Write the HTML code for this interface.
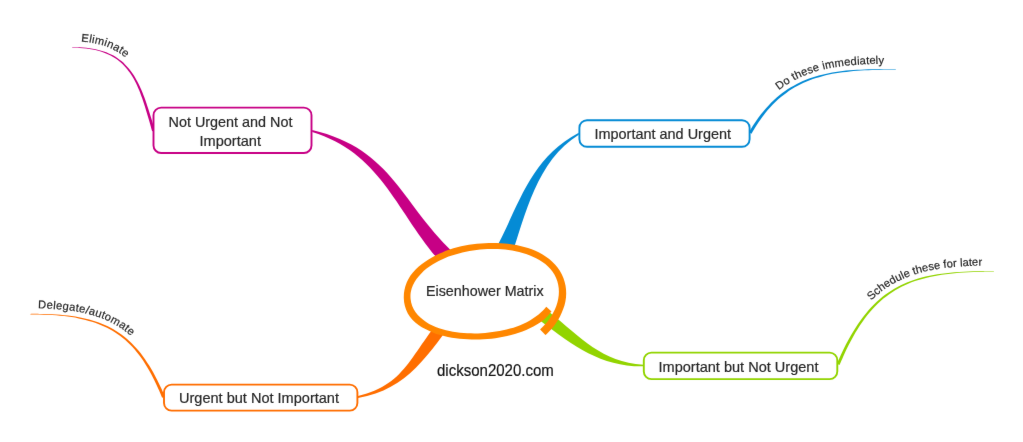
<!DOCTYPE html>
<html lang="en">
<head>
<meta charset="utf-8">
<title>Eisenhower Matrix</title>
<style>
html,body{margin:0;padding:0;background:#fff;}
body{width:1023px;height:442px;overflow:hidden;}
svg{display:block;}
text{font-family:"Liberation Sans",Arial,Helvetica,sans-serif;fill:#282828;stroke:#282828;stroke-width:0.2px;}
</style>
</head>
<body>
<svg width="1023" height="442" viewBox="0 0 1023 442">
<defs><filter id="soft" x="0" y="0" width="1023" height="442" filterUnits="userSpaceOnUse" color-interpolation-filters="sRGB"><feConvolveMatrix order="3" kernelMatrix="0.0028 0.0470 0.0028 0.0470 0.8008 0.0470 0.0028 0.0470 0.0028" edgeMode="duplicate" preserveAlpha="false"/></filter></defs>
<g filter="url(#soft)">
<rect width="1023" height="442" fill="#ffffff"/>

<path d="M312.2 130C410 153.1 400.5 227.8 496.6 285.1L470.3 289.6C400.7 237.9 395.3 157.2 312.2 132Z" fill="#C70085"/>
<path d="M578.8 132.7C520.6 164 518 219.8 479.9 275.8L505.5 272.4C523.3 228 531.4 164.2 578.8 134.8Z" fill="#058BD5"/>
<path d="M643.4 364.8C601.2 361.6 582.6 339 548.3 311.3L540.3 320.7C574.5 346.8 601.8 366.9 643.4 366.3Z" fill="#92D400"/>
<path d="M358 395.9C409.4 384.5 410.4 349.6 451.3 307.6L461 310.7C427.2 355.2 408.9 389 358 398Z" fill="#FF6E00"/>
<path d="M154.9 130.4C154.6 129.3 153.6 126.1 153 124C152.3 121.8 151.7 119.8 151.1 117.7C150.4 115.7 149.8 113.7 149.2 111.7C148.6 109.7 147.9 107.8 147.3 105.9C146.7 104 146 102.1 145.4 100.3C144.7 98.4 144.1 96.6 143.4 94.9C142.7 93.1 142 91.4 141.3 89.7C140.5 88.1 139.8 86.4 139 84.8C138.3 83.2 137.5 81.7 136.6 80.2C135.8 78.7 135 77.2 134.1 75.8C133.2 74.4 132.3 73 131.3 71.7C130.3 70.4 129.3 69.1 128.3 67.9C127.2 66.7 126.2 65.5 125 64.4C123.9 63.2 122.7 62.2 121.4 61.1C120.2 60.1 118.9 59.1 117.6 58.2C116.2 57.3 114.8 56.4 113.4 55.6C111.9 54.8 110.4 54.1 108.8 53.4C107.2 52.7 105.5 52 103.8 51.5C102.1 50.9 100.3 50.4 98.4 49.9C96.6 49.4 94.6 49 92.6 48.7C90.6 48.3 88.5 48 86.3 47.8C84.1 47.6 81.9 47.4 79.5 47.3C77.2 47.2 73.4 47.2 72.2 47.1L72.2 47.6C73.4 47.7 77.1 47.7 79.5 47.9C81.8 48 84.1 48.2 86.2 48.5C88.4 48.8 90.5 49.1 92.5 49.5C94.4 49.8 96.4 50.3 98.2 50.8C100 51.3 101.8 51.8 103.5 52.4C105.2 53 106.8 53.7 108.3 54.4C109.9 55.1 111.3 55.9 112.7 56.7C114.2 57.5 115.5 58.4 116.8 59.3C118.1 60.2 119.3 61.2 120.5 62.2C121.7 63.3 122.8 64.3 123.9 65.4C125 66.6 126 67.7 127 68.9C128 70.2 129 71.4 129.9 72.7C130.8 74 131.7 75.4 132.5 76.8C133.3 78.2 134.1 79.6 134.9 81.1C135.7 82.6 136.4 84.1 137.2 85.7C137.9 87.3 138.6 88.9 139.3 90.6C139.9 92.2 140.6 93.9 141.2 95.7C141.9 97.4 142.5 99.2 143.1 101C143.7 102.9 144.3 104.7 144.9 106.6C145.5 108.5 146.1 110.5 146.7 112.4C147.3 114.4 147.9 116.4 148.5 118.5C149.1 120.5 149.7 122.6 150.3 124.7C150.9 126.9 151.8 130.1 152.1 131.2Z" fill="#C70085"/>
<path d="M751.6 133.7C752.3 132.5 754.5 128.6 756.1 126.1C757.6 123.7 759.1 121.4 760.7 119.2C762.3 117 763.9 114.9 765.5 112.8C767.1 110.8 768.8 108.9 770.5 107.1C772.1 105.2 773.9 103.5 775.6 101.8C777.3 100.2 779.1 98.6 780.9 97.1C782.7 95.6 784.5 94.2 786.3 92.9C788.2 91.5 790 90.3 791.9 89.1C793.8 87.9 795.7 86.8 797.7 85.8C799.6 84.7 801.6 83.7 803.6 82.8C805.6 81.9 807.7 81.1 809.7 80.3C811.8 79.5 813.9 78.7 816 78.1C818.1 77.4 820.3 76.8 822.4 76.2C824.6 75.6 826.8 75.1 829 74.6C831.3 74.1 833.5 73.7 835.8 73.3C838.1 72.9 840.4 72.6 842.7 72.2C845.1 71.9 847.5 71.7 849.8 71.4C852.2 71.2 854.7 71 857.1 70.8C859.5 70.6 862 70.4 864.5 70.3C867 70.2 869.6 70.1 872.1 70C874.7 69.9 877.2 69.8 879.8 69.8C882.5 69.7 885.1 69.7 887.7 69.6C890.4 69.6 894.5 69.6 895.8 69.5L895.8 69C894.5 69 890.4 69 887.7 69C885.1 69 882.4 69 879.8 69C877.2 69.1 874.6 69.1 872.1 69.2C869.5 69.2 867 69.3 864.5 69.4C862 69.5 859.5 69.6 857 69.8C854.6 69.9 852.1 70.1 849.7 70.3C847.3 70.5 844.9 70.7 842.6 71C840.2 71.3 837.9 71.6 835.6 72C833.3 72.3 831 72.7 828.8 73.2C826.5 73.6 824.3 74.1 822.1 74.7C819.9 75.2 817.7 75.8 815.5 76.5C813.4 77.1 811.2 77.8 809.1 78.6C807 79.4 804.9 80.2 802.9 81.1C800.8 82 798.8 83 796.8 84C794.8 85.1 792.8 86.2 790.8 87.3C788.9 88.5 787 89.8 785.1 91.1C783.2 92.4 781.3 93.8 779.4 95.3C777.6 96.8 775.8 98.4 774 100.1C772.2 101.8 770.4 103.5 768.6 105.4C766.9 107.2 765.2 109.2 763.5 111.2C761.8 113.2 760.1 115.4 758.5 117.6C756.9 119.8 755.3 122.2 753.7 124.6C752.1 127.1 749.8 131 749 132.3Z" fill="#058BD5"/>
<path d="M839.5 365C840.3 363.3 842.5 358.1 843.9 354.9C845.4 351.7 846.9 348.6 848.4 345.6C849.9 342.6 851.4 339.7 853 336.9C854.5 334.2 856.1 331.5 857.7 329C859.2 326.5 860.8 324.1 862.5 321.7C864.1 319.4 865.8 317.2 867.4 315.1C869.1 313 870.8 311 872.6 309C874.3 307.1 876.1 305.3 877.9 303.6C879.7 301.8 881.6 300.2 883.4 298.6C885.3 297.1 887.2 295.6 889.2 294.2C891.2 292.8 893.2 291.5 895.2 290.3C897.3 289 899.4 287.9 901.5 286.8C903.7 285.7 905.9 284.7 908.1 283.8C910.3 282.8 912.6 282 915 281.1C917.3 280.3 919.7 279.6 922.2 278.9C924.7 278.2 927.2 277.6 929.8 277C932.3 276.4 935 275.9 937.7 275.4C940.4 275 943.2 274.6 946 274.2C948.8 273.8 951.7 273.5 954.7 273.2C957.7 272.9 960.7 272.7 963.8 272.5C967 272.3 970.1 272.1 973.4 272C976.7 271.8 980 271.8 983.4 271.7C986.8 271.6 992.2 271.6 993.9 271.6L993.9 271.1C992.2 271.1 986.8 271 983.4 271.1C980 271.1 976.6 271.2 973.4 271.3C970.1 271.4 966.9 271.5 963.8 271.7C960.7 271.8 957.6 272 954.6 272.3C951.6 272.5 948.7 272.8 945.9 273.2C943 273.5 940.2 273.9 937.5 274.3C934.8 274.8 932.1 275.3 929.5 275.8C926.9 276.3 924.3 276.9 921.8 277.6C919.4 278.3 916.9 279 914.5 279.8C912.1 280.6 909.8 281.4 907.5 282.3C905.2 283.3 903 284.3 900.8 285.3C898.6 286.4 896.4 287.5 894.3 288.8C892.2 290 890.2 291.3 888.1 292.7C886.1 294.1 884.1 295.5 882.2 297.1C880.3 298.7 878.4 300.3 876.5 302.1C874.6 303.8 872.8 305.6 871 307.6C869.2 309.5 867.4 311.5 865.7 313.7C863.9 315.8 862.2 318 860.5 320.4C858.8 322.7 857.2 325.1 855.6 327.7C853.9 330.2 852.3 332.9 850.7 335.7C849.1 338.4 847.6 341.3 846 344.3C844.4 347.3 842.9 350.5 841.4 353.7C839.9 357 837.6 362.1 836.9 363.8Z" fill="#92D400"/>
<path d="M164.8 396.8C164.2 395.3 162.4 390.9 161.1 388.1C159.8 385.3 158.5 382.6 157.2 380C155.9 377.5 154.6 375 153.3 372.6C152 370.1 150.6 367.8 149.2 365.6C147.8 363.4 146.4 361.3 145 359.2C143.6 357.2 142.1 355.2 140.7 353.3C139.2 351.4 137.7 349.6 136.1 347.9C134.6 346.2 133 344.6 131.4 343C129.8 341.4 128.2 340 126.5 338.5C124.9 337.1 123.2 335.8 121.4 334.5C119.7 333.3 117.9 332.1 116.1 330.9C114.3 329.8 112.5 328.8 110.6 327.8C108.7 326.8 106.8 325.8 104.8 325C102.8 324.1 100.8 323.3 98.7 322.5C96.7 321.8 94.6 321.1 92.4 320.5C90.3 319.8 88.1 319.2 85.8 318.7C83.6 318.2 81.3 317.7 78.9 317.3C76.6 316.8 74.2 316.4 71.7 316.1C69.2 315.7 66.7 315.4 64.2 315.2C61.6 314.9 59 314.7 56.3 314.5C53.6 314.4 50.8 314.2 48 314.1C45.2 314 42.4 313.9 39.4 313.9C36.5 313.8 31.9 313.9 30.4 313.9L30.4 314.4C31.9 314.4 36.5 314.4 39.4 314.5C42.3 314.6 45.2 314.7 48 314.8C50.8 315 53.5 315.1 56.2 315.3C58.9 315.6 61.5 315.8 64.1 316.1C66.6 316.4 69.1 316.7 71.6 317.1C74 317.5 76.4 317.9 78.7 318.4C81 318.8 83.3 319.3 85.5 319.9C87.7 320.5 89.9 321.1 92 321.7C94.1 322.4 96.2 323.1 98.2 323.9C100.2 324.7 102.2 325.5 104.1 326.4C106.1 327.3 108 328.2 109.8 329.2C111.6 330.2 113.4 331.3 115.2 332.4C116.9 333.6 118.6 334.8 120.3 336C122 337.3 123.6 338.6 125.3 340C126.9 341.4 128.4 342.9 130 344.5C131.5 346 133 347.6 134.5 349.3C136 351.1 137.4 352.8 138.9 354.7C140.3 356.6 141.7 358.5 143.1 360.5C144.4 362.6 145.8 364.7 147.1 366.9C148.4 369.1 149.7 371.4 151 373.8C152.3 376.2 153.6 378.7 154.8 381.2C156.1 383.8 157.3 386.5 158.5 389.2C159.8 392 161.6 396.4 162.2 397.8Z" fill="#FF6E00"/>
<defs><path id="pm" d="M72.2 41.4C73.2 41.4 76.4 41.4 78.4 41.5C80.4 41.6 82.4 41.7 84.3 41.9C86.2 42.1 88.2 42.3 89.8 42.5C91.5 42.8 92.8 43 94.4 43.3C96 43.6 97.8 44 99.4 44.4C101 44.8 102.6 45.3 104.1 45.8C105.7 46.3 107.2 46.8 108.6 47.4C110.1 48 111.5 48.6 112.8 49.3C114.2 49.9 115.5 50.7 116.8 51.4C118.1 52.2 119.4 53 120.5 53.8C121.6 54.5 122.4 55.1 123.5 56C124.5 56.8 125.7 57.8 126.7 58.8C127.8 59.7 128.8 60.7 129.8 61.8C130.7 62.8 131.7 63.9 132.6 65C133.5 66 134.3 67.2 135.2 68.3C136 69.5 136.8 70.7 137.6 71.9C138.4 73.1 139.1 74.3 139.8 75.6C140.5 76.8 141.3 78.2 141.9 79.4C142.5 80.6 143 81.6 143.6 82.8C144.2 84.1 144.8 85.6 145.4 87C146 88.4 146.6 89.8 147.2 91.2C147.7 92.7 148.3 94.1 148.8 95.6C149.4 97.1 149.9 98.6 150.4 100.1C150.9 101.7 151.5 103.2 152 104.8C152.5 106.4 153 108.1 153.5 109.6C153.9 111.1 154.3 112.2 154.8 113.8C155.2 115.3 155.7 117.1 156.2 118.8C156.7 120.5 157.2 122.2 157.7 123.9C158.2 125.6 159 128.3 159.3 129.1"/><path id="po" d="M30.4 308.3C31.6 308.3 35.4 308.3 37.8 308.4C40.2 308.4 42.6 308.5 45 308.5C47.3 308.6 49.8 308.7 51.9 308.8C54 309 55.6 309.1 57.7 309.2C59.7 309.4 62 309.6 64.2 309.8C66.3 310 68.4 310.3 70.5 310.6C72.6 310.9 74.6 311.2 76.6 311.5C78.6 311.8 80.6 312.2 82.5 312.6C84.4 313 86.3 313.5 88.2 314C90.1 314.4 92.1 315 93.7 315.5C95.4 316 96.7 316.4 98.4 317C100 317.6 101.9 318.3 103.6 319C105.3 319.7 107 320.4 108.6 321.2C110.3 322 111.9 322.8 113.5 323.7C115.1 324.6 116.7 325.5 118.2 326.4C119.8 327.4 121.3 328.4 122.8 329.5C124.3 330.5 125.7 331.6 127.2 332.8C128.6 333.9 130.1 335.2 131.4 336.4C132.7 337.6 133.7 338.5 134.9 339.7C136.2 341 137.6 342.5 138.9 343.9C140.2 345.3 141.4 346.8 142.7 348.4C143.9 349.9 145.2 351.5 146.4 353.2C147.6 354.8 148.8 356.5 150 358.3C151.1 360 152.3 361.9 153.4 363.7C154.5 365.6 155.7 367.7 156.8 369.5C157.8 371.3 158.6 372.8 159.6 374.7C160.5 376.7 161.7 378.9 162.7 381.1C163.8 383.4 164.8 385.6 165.8 387.9C166.9 390.3 168.4 393.9 168.9 395.1"/><path id="pb" d="M745.5 130.3C746.1 129.2 748 125.9 749.3 123.9C750.6 121.8 751.9 119.8 753.2 117.9C754.6 115.9 756 114 757.3 112.3C758.6 110.6 759.6 109.3 760.9 107.8C762.2 106.2 763.7 104.4 765.1 102.9C766.6 101.3 768.1 99.8 769.6 98.3C771 96.9 772.5 95.5 774.1 94.2C775.6 92.8 777.2 91.5 778.7 90.3C780.3 89.1 781.9 87.9 783.5 86.8C785.1 85.7 786.8 84.6 788.4 83.6C789.9 82.7 791.1 82 792.6 81.1C794.2 80.3 796 79.3 797.7 78.5C799.4 77.7 801.1 76.9 802.9 76.1C804.6 75.4 806.4 74.7 808.1 74.1C809.9 73.4 811.7 72.8 813.5 72.2C815.3 71.6 817.1 71.1 818.9 70.6C820.8 70.1 822.6 69.7 824.5 69.2C826.3 68.8 828.3 68.4 830.1 68.1C831.9 67.7 833.2 67.5 835 67.2C836.8 66.9 838.8 66.6 840.8 66.3C842.7 66.1 844.7 65.8 846.7 65.6C848.6 65.4 850.6 65.2 852.6 65.1C854.6 64.9 856.6 64.8 858.7 64.7C860.7 64.5 862.7 64.4 864.8 64.3C866.8 64.2 869.1 64.2 871 64.1C872.9 64 874.4 64 876.4 64C878.4 63.9 880.6 63.9 882.8 63.9C884.9 63.8 887.1 63.8 889.2 63.8C891.4 63.8 894.7 63.8 895.8 63.8"/><path id="pg" d="M832.9 362.1C833.5 360.7 835.3 356.5 836.5 353.8C837.8 351.1 839 348.4 840.2 345.9C841.5 343.3 842.9 340.7 844.1 338.4C845.2 336.2 846.2 334.5 847.4 332.4C848.6 330.3 850 327.9 851.4 325.8C852.7 323.7 854.1 321.6 855.4 319.6C856.8 317.6 858.2 315.7 859.6 313.8C861.1 311.9 862.5 310.1 864 308.4C865.4 306.7 866.9 305 868.4 303.4C870 301.8 871.6 300.1 873.1 298.7C874.5 297.3 875.7 296.3 877.2 295C878.7 293.8 880.4 292.3 882.1 291.1C883.8 289.8 885.5 288.6 887.2 287.4C888.9 286.3 890.7 285.2 892.5 284.2C894.3 283.1 896.1 282.1 897.9 281.2C899.8 280.3 901.6 279.4 903.6 278.6C905.5 277.7 907.4 276.9 909.4 276.2C911.3 275.5 913.5 274.8 915.4 274.2C917.3 273.6 918.7 273.1 920.7 272.6C922.6 272.1 924.9 271.5 927.1 271C929.2 270.5 931.4 270.1 933.7 269.7C935.9 269.3 938.2 268.9 940.5 268.6C942.8 268.2 945.1 267.9 947.5 267.6C949.9 267.4 952.3 267.1 954.8 266.9C957.3 266.7 960 266.5 962.3 266.4C964.7 266.2 966.5 266.1 969 266C971.4 265.9 974.3 265.8 977 265.7C979.7 265.6 982.5 265.6 985.3 265.6C988.1 265.5 992.5 265.5 993.9 265.5"/></defs>
<text font-size="11.2" stroke="none"><textPath href="#pm" startOffset="8.8" textLength="48.4" lengthAdjust="spacing">Eliminate</textPath></text>
<text font-size="11.2" stroke="none"><textPath href="#po" startOffset="7.6" textLength="99.4" lengthAdjust="spacing">Delegate/automate</textPath></text>
<text font-size="11.2" stroke="none"><textPath href="#pb" startOffset="52.4" textLength="110.7" lengthAdjust="spacing">Do these immediately</textPath></text>
<text font-size="11.2" stroke="none"><textPath href="#pg" startOffset="73" textLength="119.5" lengthAdjust="spacing">Schedule these for later</textPath></text>
<rect x="153.5" y="107.6" width="158" height="45.4" rx="7.6" fill="#fff" stroke="#C70085" stroke-width="1.9"/>
<rect x="579.4" y="120.2" width="170.2" height="26.6" rx="7.6" fill="#fff" stroke="#058BD5" stroke-width="1.9"/>
<rect x="164" y="384.6" width="193.4" height="26" rx="7.6" fill="#fff" stroke="#FF6E00" stroke-width="1.9"/>
<rect x="643.8" y="352.6" width="193.5" height="26.5" rx="7.6" fill="#fff" stroke="#92D400" stroke-width="1.9"/>
<text x="168.5" y="126.6" font-size="15" textLength="124" lengthAdjust="spacingAndGlyphs">Not Urgent and Not</text>
<text x="199.5" y="146" font-size="15" textLength="61.5" lengthAdjust="spacingAndGlyphs">Important</text>
<text x="594.5" y="139.3" font-size="15" textLength="136.5" lengthAdjust="spacingAndGlyphs">Important and Urgent</text>
<text x="179" y="403.1" font-size="15" textLength="160" lengthAdjust="spacingAndGlyphs">Urgent but Not Important</text>
<text x="658.5" y="371.5" font-size="15" textLength="160" lengthAdjust="spacingAndGlyphs">Important but Not Urgent</text>
<path d="M558.2 298.9C558.3 297.7 558.9 294.2 558.9 291.8C558.9 289.4 558.7 287 558.2 284.7C557.8 282.4 557 280.1 556.1 278C555.2 275.8 554 273.7 552.6 271.8C551.3 269.8 549.7 268 548 266.4C546.3 264.7 544.4 263.2 542.4 261.9C540.4 260.5 538.3 259.3 536.1 258.3C534 257.2 531.7 256.2 529.4 255.3C527.2 254.5 524.9 253.7 522.6 253C520.3 252.3 518 251.7 515.6 251.2C513.3 250.7 511 250.3 508.6 250C506.3 249.6 503.9 249.4 501.5 249.2C499.2 249 496.8 248.9 494.4 248.9C492 248.9 489.7 248.9 487.3 249C484.9 249.1 482.5 249.3 480.1 249.6C477.8 249.8 475.4 250.2 473 250.5C470.6 250.9 468.3 251.3 465.9 251.8C463.5 252.3 461.2 252.8 458.9 253.4C456.5 254 454.2 254.7 451.9 255.5C449.6 256.2 447.4 257 445.2 257.9C443 258.8 440.8 259.8 438.7 260.9C436.5 262 434.5 263.1 432.5 264.4C430.4 265.7 428.5 267.1 426.6 268.6C424.8 270.1 422.9 271.7 421.3 273.5C419.6 275.2 417.9 277.1 416.5 279.1C415.2 281 413.9 283.1 412.9 285.3C412 287.4 411.2 289.7 410.8 292C410.4 294.2 410.4 296.7 410.6 299C410.8 301.3 411.4 303.7 412.2 305.9C413.1 308.1 414.2 310.2 415.6 312.2C416.9 314.1 418.6 315.9 420.4 317.6C422.1 319.2 424.1 320.7 426.1 322C428.1 323.4 430.2 324.5 432.4 325.5C434.6 326.6 436.8 327.4 439.1 328.2C441.3 329 443.7 329.6 446 330.2C448.3 330.8 450.7 331.2 453 331.7C455.4 332.1 457.8 332.4 460.1 332.7C462.5 332.9 464.9 333.1 467.3 333.3C469.7 333.4 472.1 333.4 474.4 333.4C476.8 333.4 479.2 333.3 481.6 333.2C484 333.1 486.4 332.9 488.8 332.6C491.1 332.3 493.5 332 495.9 331.6C498.3 331.2 500.6 330.8 503 330.2C505.3 329.7 507.7 329.2 510 328.5C512.3 327.9 514.6 327.2 516.9 326.4C519.1 325.6 521.3 324.7 523.5 323.7C525.7 322.8 527.8 321.7 529.9 320.5C531.9 319.3 533.9 318.1 535.8 316.6C537.7 315.2 539.6 313.7 541.3 312C543.1 310.4 545.5 307.6 546.3 306.7Z" fill="#fff" stroke="#fff" stroke-width="3" stroke-linejoin="round"/>
<path d="M551.5 311.4C550.6 312.4 548.1 315.6 546.2 317.4C544.3 319.3 542.3 320.9 540.1 322.5C538 324 535.7 325.3 533.4 326.6C531 327.9 528.6 329 526.2 330C523.7 331 521.2 331.9 518.7 332.8C516.2 333.6 513.6 334.4 511.1 335.1C508.5 335.7 505.9 336.3 503.3 336.8C500.7 337.4 498.1 337.8 495.4 338.2C492.8 338.5 490.2 338.8 487.5 339C484.9 339.2 482.2 339.4 479.6 339.4C476.9 339.5 474.3 339.5 471.6 339.4C469 339.4 466.3 339.2 463.7 339C461 338.8 458.4 338.5 455.8 338.2C453.1 337.8 450.5 337.4 447.9 336.9C445.3 336.3 442.7 335.7 440.2 335C437.6 334.2 435.1 333.4 432.7 332.4C430.2 331.4 427.7 330.3 425.4 329.1C423 327.8 420.6 326.5 418.5 324.9C416.3 323.4 414.2 321.7 412.4 319.8C410.7 317.9 409.1 315.8 407.8 313.5C406.5 311.2 405.6 308.7 404.9 306.1C404.2 303.6 403.9 300.9 403.8 298.2C403.7 295.6 403.9 292.8 404.4 290.2C404.9 287.6 405.7 285 406.7 282.6C407.7 280.1 409 277.8 410.5 275.6C412 273.5 413.7 271.5 415.6 269.6C417.4 267.7 419.5 265.9 421.6 264.3C423.6 262.6 425.9 261.1 428.1 259.7C430.3 258.3 432.6 256.9 435 255.7C437.3 254.5 439.7 253.4 442.2 252.4C444.6 251.3 447.1 250.4 449.6 249.6C452.1 248.7 454.7 248 457.2 247.3C459.8 246.7 462.4 246.1 465 245.6C467.6 245.1 470.3 244.7 472.9 244.3C475.6 244 478.2 243.7 480.9 243.5C483.5 243.3 486.2 243.2 488.9 243.1C491.5 243 494.2 243 496.8 243.1C499.4 243.2 502.1 243.3 504.7 243.6C507.3 243.8 509.9 244.1 512.5 244.5C515.1 244.9 517.7 245.3 520.3 245.9C522.9 246.5 525.5 247.2 528 248C530.5 248.8 533 249.7 535.4 250.8C537.9 251.9 540.3 253.2 542.6 254.6C544.9 255.9 547.1 257.5 549.2 259.1C551.3 260.8 553.3 262.6 555 264.6C556.8 266.5 558.4 268.6 559.8 270.8C561.2 273.1 562.4 275.4 563.4 277.9C564.3 280.3 565 282.9 565.5 285.5C566 288.1 566.2 290.8 566.2 293.4C566.2 296.1 565.9 298.8 565.4 301.4C564.9 304 564.1 306.6 563.2 309.1C562.3 311.6 561.2 314 560 316.4C558.8 318.8 557.4 321.1 555.9 323.2C554.5 325.4 552.9 327.5 551.1 329.5C549.3 331.5 546.4 334.2 545.4 335.1L540.1 329.4C540.9 328.6 543.5 326.1 545.1 324.3C546.7 322.6 548.2 320.7 549.5 318.7C550.9 316.8 552.2 314.7 553.3 312.6C554.4 310.4 555.4 308.2 556.3 305.9C557.1 303.7 557.8 301.3 558.2 298.9C558.7 296.6 558.9 294.2 558.9 291.8C558.9 289.4 558.7 287 558.2 284.7C557.8 282.4 557 280.1 556.1 278C555.2 275.8 554 273.7 552.6 271.8C551.3 269.8 549.7 268 548 266.4C546.3 264.7 544.4 263.2 542.4 261.9C540.4 260.5 538.3 259.3 536.1 258.3C534 257.2 531.7 256.2 529.4 255.3C527.2 254.5 524.9 253.7 522.6 253C520.3 252.3 518 251.7 515.6 251.2C513.3 250.7 511 250.3 508.6 250C506.3 249.6 503.9 249.4 501.5 249.2C499.2 249 496.8 248.9 494.4 248.9C492 248.9 489.7 248.9 487.3 249C484.9 249.1 482.5 249.3 480.1 249.6C477.8 249.8 475.4 250.2 473 250.5C470.6 250.9 468.3 251.3 465.9 251.8C463.5 252.3 461.2 252.8 458.9 253.4C456.5 254 454.2 254.7 451.9 255.5C449.6 256.2 447.4 257 445.2 257.9C443 258.8 440.8 259.8 438.7 260.9C436.5 262 434.5 263.1 432.5 264.4C430.4 265.7 428.5 267.1 426.6 268.6C424.8 270.1 422.9 271.7 421.3 273.5C419.6 275.2 417.9 277.1 416.5 279.1C415.2 281 413.9 283.1 412.9 285.3C412 287.4 411.2 289.7 410.8 292C410.4 294.2 410.4 296.7 410.6 299C410.8 301.3 411.4 303.7 412.2 305.9C413.1 308.1 414.2 310.2 415.6 312.2C416.9 314.1 418.6 315.9 420.4 317.6C422.1 319.2 424.1 320.7 426.1 322C428.1 323.4 430.2 324.5 432.4 325.5C434.6 326.6 436.8 327.4 439.1 328.2C441.3 329 443.7 329.6 446 330.2C448.3 330.8 450.7 331.2 453 331.7C455.4 332.1 457.8 332.4 460.1 332.7C462.5 332.9 464.9 333.1 467.3 333.3C469.7 333.4 472.1 333.4 474.4 333.4C476.8 333.4 479.2 333.3 481.6 333.2C484 333.1 486.4 332.9 488.8 332.6C491.1 332.3 493.5 332 495.9 331.6C498.3 331.2 500.6 330.8 503 330.2C505.3 329.7 507.7 329.2 510 328.5C512.3 327.9 514.6 327.2 516.9 326.4C519.1 325.6 521.3 324.7 523.5 323.7C525.7 322.8 527.8 321.7 529.9 320.5C531.9 319.3 533.9 318.1 535.8 316.6C537.7 315.2 539.6 313.7 541.3 312C543.1 310.4 545.5 307.6 546.3 306.7Z" fill="#FF8700"/>
<text x="426" y="296.2" font-size="15" textLength="117.6" lengthAdjust="spacingAndGlyphs">Eisenhower Matrix</text>
<text x="437" y="375.8" font-size="16" textLength="116.8" lengthAdjust="spacingAndGlyphs" style="fill:#111">dickson2020.com</text>
</g>
</svg>
</body>
</html>
